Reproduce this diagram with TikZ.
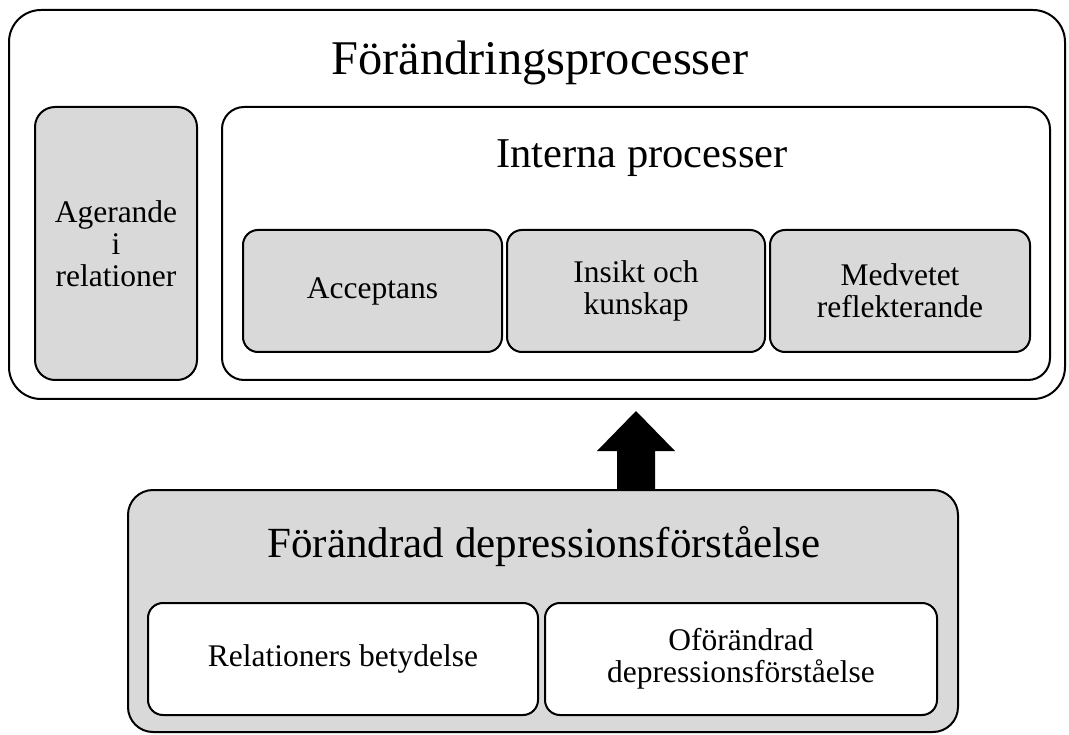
\documentclass[tikz,border=0pt]{standalone}
\usepackage{fontspec}
\setmainfont{Liberation Serif}
\usetikzlibrary{calc}
\definecolor{boxgray}{HTML}{D9D9D9}
\tikzset{
  box/.style={draw=black, line width=2pt, rectangle, inner sep=0pt, align=center},
  gbox/.style={box, fill=boxgray},
  wbox/.style={box, fill=white},
  small/.style={font=\fontsize{31.5}{32}\selectfont},
  ttl/.style={inner sep=0pt, anchor=center}
}
\begin{document}
\begin{tikzpicture}[x=1pt,y=-1pt]
\useasboundingbox (0,0) rectangle (1069,735);
% outer
\node[wbox, rounded corners=32pt, minimum width=1056pt, minimum height=389pt] (outer) at (537,204.5) {};
\node[ttl, font=\fontsize{48.4}{50}\selectfont] (outert) at (540,63) {Förändringsprocesser};
\node[gbox, rounded corners=20pt, minimum width=162pt, minimum height=273pt, small] (ager) at (116,243.5) {Agerande\\i\\relationer};
\node[wbox, rounded corners=22pt, minimum width=828pt, minimum height=273pt] (interna) at (636,243.5) {};
\node[ttl, font=\fontsize{42.5}{46}\selectfont] (internat) at (642,158) {Interna processer};
\node[gbox, rounded corners=15pt, minimum width=259pt, minimum height=122pt, small] (acc) at (372.5,291) {Acceptans};
\node[gbox, rounded corners=15pt, minimum width=258pt, minimum height=122pt, small] (ins) at (636,291) {Insikt och\\kunskap};
\node[gbox, rounded corners=15pt, minimum width=260pt, minimum height=122pt, small] (med) at (900,291) {Medvetet\\reflekterande};
% bottom
\node[gbox, rounded corners=25pt, minimum width=830pt, minimum height=242pt] (bot) at (543,611) {};
\node[ttl, font=\fontsize{43}{46}\selectfont] (bott) at (544,547) {Förändrad depressionsförståelse};
\node[wbox, rounded corners=15pt, minimum width=390pt, minimum height=112pt, small] (rel) at (343,659) {Relationers betydelse};
\node[wbox, rounded corners=15pt, minimum width=392pt, minimum height=112pt, small] (ofo) at (741,659) {Oförändrad\\depressionsförståelse};
% arrow
\coordinate (ab) at (bot.north -| ins.center);
\coordinate (at) at (636,411);
\fill[black] ($(ab)+(-19,0)$) -- ($(at)+(-19,40)$) -- ($(at)+(-39,40)$) -- (at) -- ($(at)+(39,40)$) -- ($(at)+(19,40)$) -- ($(ab)+(19,0)$) -- cycle;
\end{tikzpicture}
\end{document}
